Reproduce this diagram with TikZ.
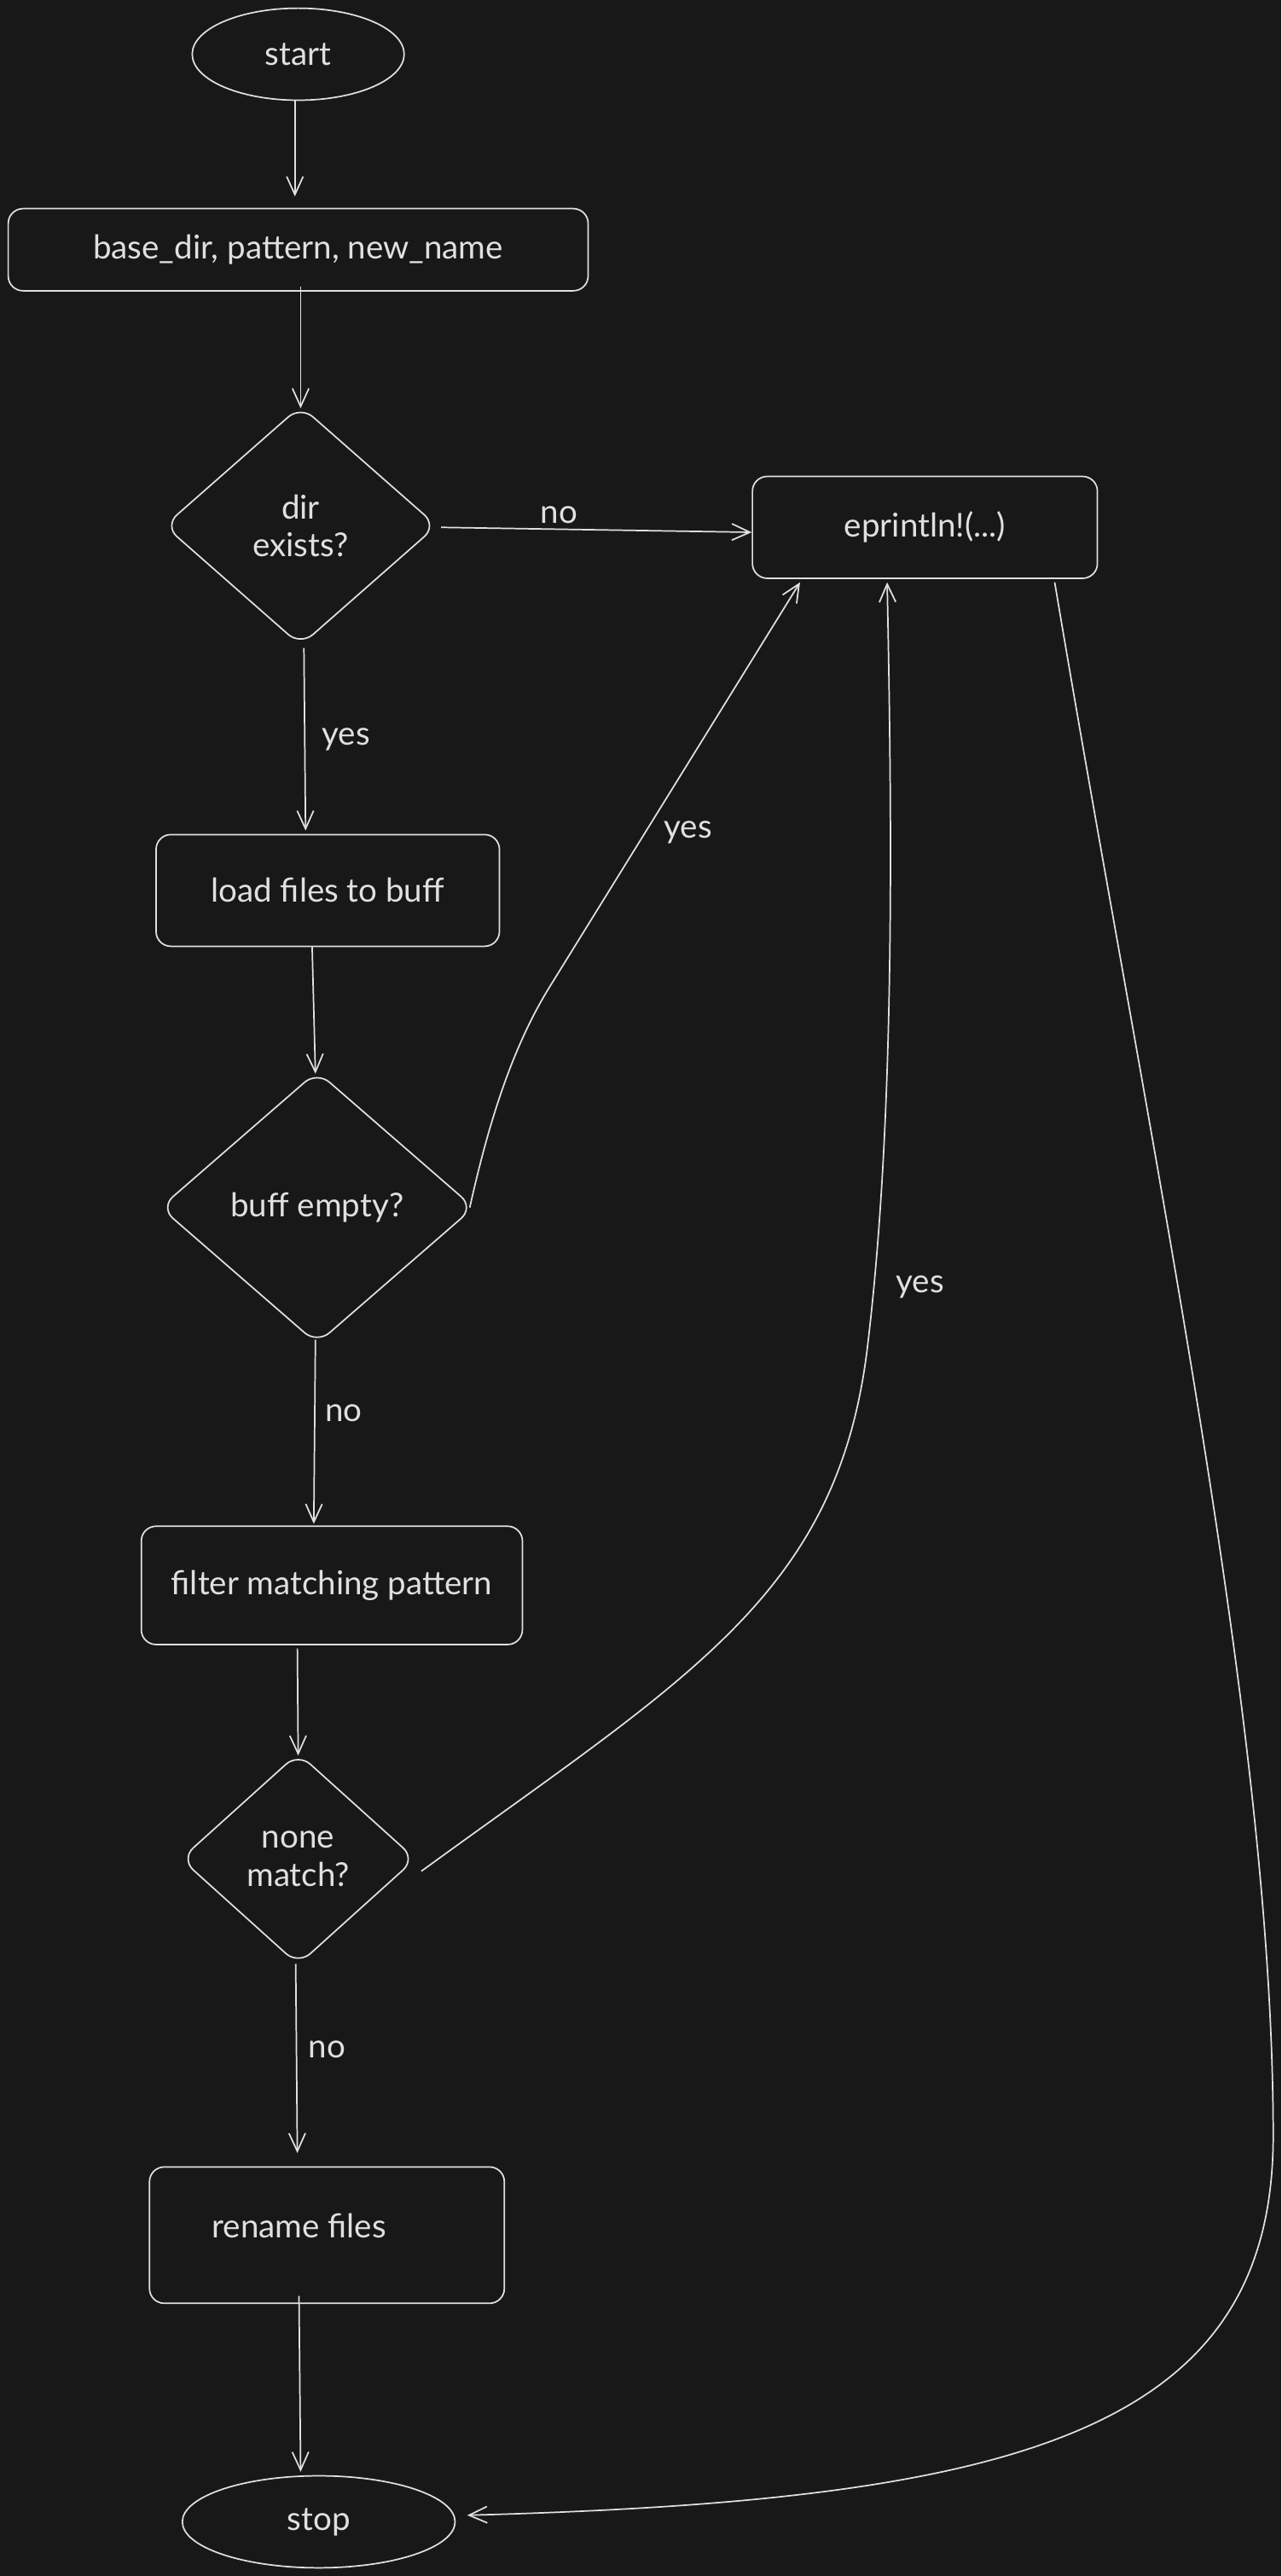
\documentclass[tikz,border=0pt]{standalone}
\usepackage{fontspec}
\setmainfont{Lato}
\usetikzlibrary{shapes.geometric,arrows.meta}
\definecolor{bg}{HTML}{181818}
\definecolor{ink}{HTML}{E0E0E0}
\begin{document}
\begin{tikzpicture}[x=1pt,y=-1pt,
  every node/.style={text=ink, font=\fontsize{20}{23}\selectfont},
  term/.style={ellipse, draw=ink, line width=0.9pt, inner sep=0pt},
  procbox/.style={rectangle, rounded corners=9pt, draw=ink, line width=0.9pt, inner sep=0pt},
  decision/.style={diamond, rounded corners=10pt, draw=ink, line width=0.9pt, inner sep=0pt, align=center},
  arr/.style={draw=ink, line width=0.9pt, -{Straight Barb[length=11pt,width=10pt]}},
  lbl/.style={inner sep=1pt}]
\fill[bg] (0,0) rectangle (780,1568);
\useasboundingbox (0,0) rectangle (780,1568);

% nodes
\node[term, minimum width=129, minimum height=56] (start) at (181.5,33) {start};
\node[procbox, minimum width=353, minimum height=50] (base) at (181.5,152) {base\_dir, pattern, new\_name};
\node[decision, minimum width=166, minimum height=146] (dir) at (183,320) {dir\\exists?};
\node[procbox, minimum width=210, minimum height=62] (eprint) at (563,321) {eprintln!(...)};
\node[procbox, minimum width=209, minimum height=68] (load) at (199.5,542) {load files to buff};
\node[decision, minimum width=191, minimum height=166] (buff) at (193,735) {buff empty?};
\node[procbox, minimum width=232, minimum height=72] (filter) at (202,965) {filter matching pattern};
\node[decision, minimum width=143, minimum height=129] (none) at (181.5,1131.5) {none\\match?};
\node[procbox, minimum width=216, minimum height=83,
      label={[shift={(-17,-5.5)}]center:rename files}] (rename) at (199,1360.5) {};
\node[term, minimum width=166, minimum height=56] (stop) at (194,1535) {stop};

% connectors
\draw[arr] ([xshift=-2pt]start.south) -- ([xshift=-2pt,yshift=7pt]base.north);
\draw[arr] ([xshift=1.5pt,yshift=3pt]base.south) -- ([yshift=-2pt]dir.north);
\draw[arr] ([xshift=2pt,yshift=-1pt]dir.east) -- ([yshift=-3pt]eprint.west)
  node[lbl, pos=0.38, above=2pt] {no};
\draw[arr] ([xshift=2pt,yshift=-1pt]dir.south) -- ([xshift=-13.5pt,yshift=2pt]load.north)
  node[lbl, midway, right=9pt] {yes};
\draw[arr] ([xshift=-9.5pt]load.south) -- ([xshift=-1pt,yshift=-2pt]buff.north);
\draw[arr] ([xshift=-3pt]buff.east) .. controls (296,690) and (310,640) .. (335,600)
  -- ([xshift=-76pt,yshift=-2pt]eprint.south)
  node[lbl, pos=0.38, right=10pt] {yes};
\draw[arr] ([xshift=-1pt,yshift=3pt]buff.south) -- ([xshift=-11pt,yshift=1pt]filter.north)
  node[lbl, pos=0.4, right=5pt] {no};
\draw[arr] ([xshift=-21pt,yshift=-2pt]filter.south) -- ([yshift=-2pt]none.north);
\draw[arr] ([xshift=3pt,yshift=-7.5pt]none.east) .. controls (420,1020) and (510,970) .. (528,820)
  .. controls (545,680) and (543,500) .. ([xshift=-23pt,yshift=-2pt]eprint.south)
  node[lbl, pos=0.085, right=12pt] {yes};
\draw[arr] ([xshift=-1.5pt,yshift=1pt]none.south) -- ([xshift=-18pt,yshift=8pt]rename.north)
  node[lbl, pos=0.45, right=6pt] {no};
\draw[arr] ([xshift=-17pt,yshift=5pt]rename.south) -- ([xshift=-11pt,yshift=2pt]stop.north);
\draw[arr] ([xshift=79pt,yshift=-2pt]eprint.south) .. controls (700,700) and (775,1050) .. (775,1300)
  .. controls (775,1480) and (620,1522) .. ([xshift=7pt,yshift=4pt]stop.east);
\end{tikzpicture}
\end{document}
